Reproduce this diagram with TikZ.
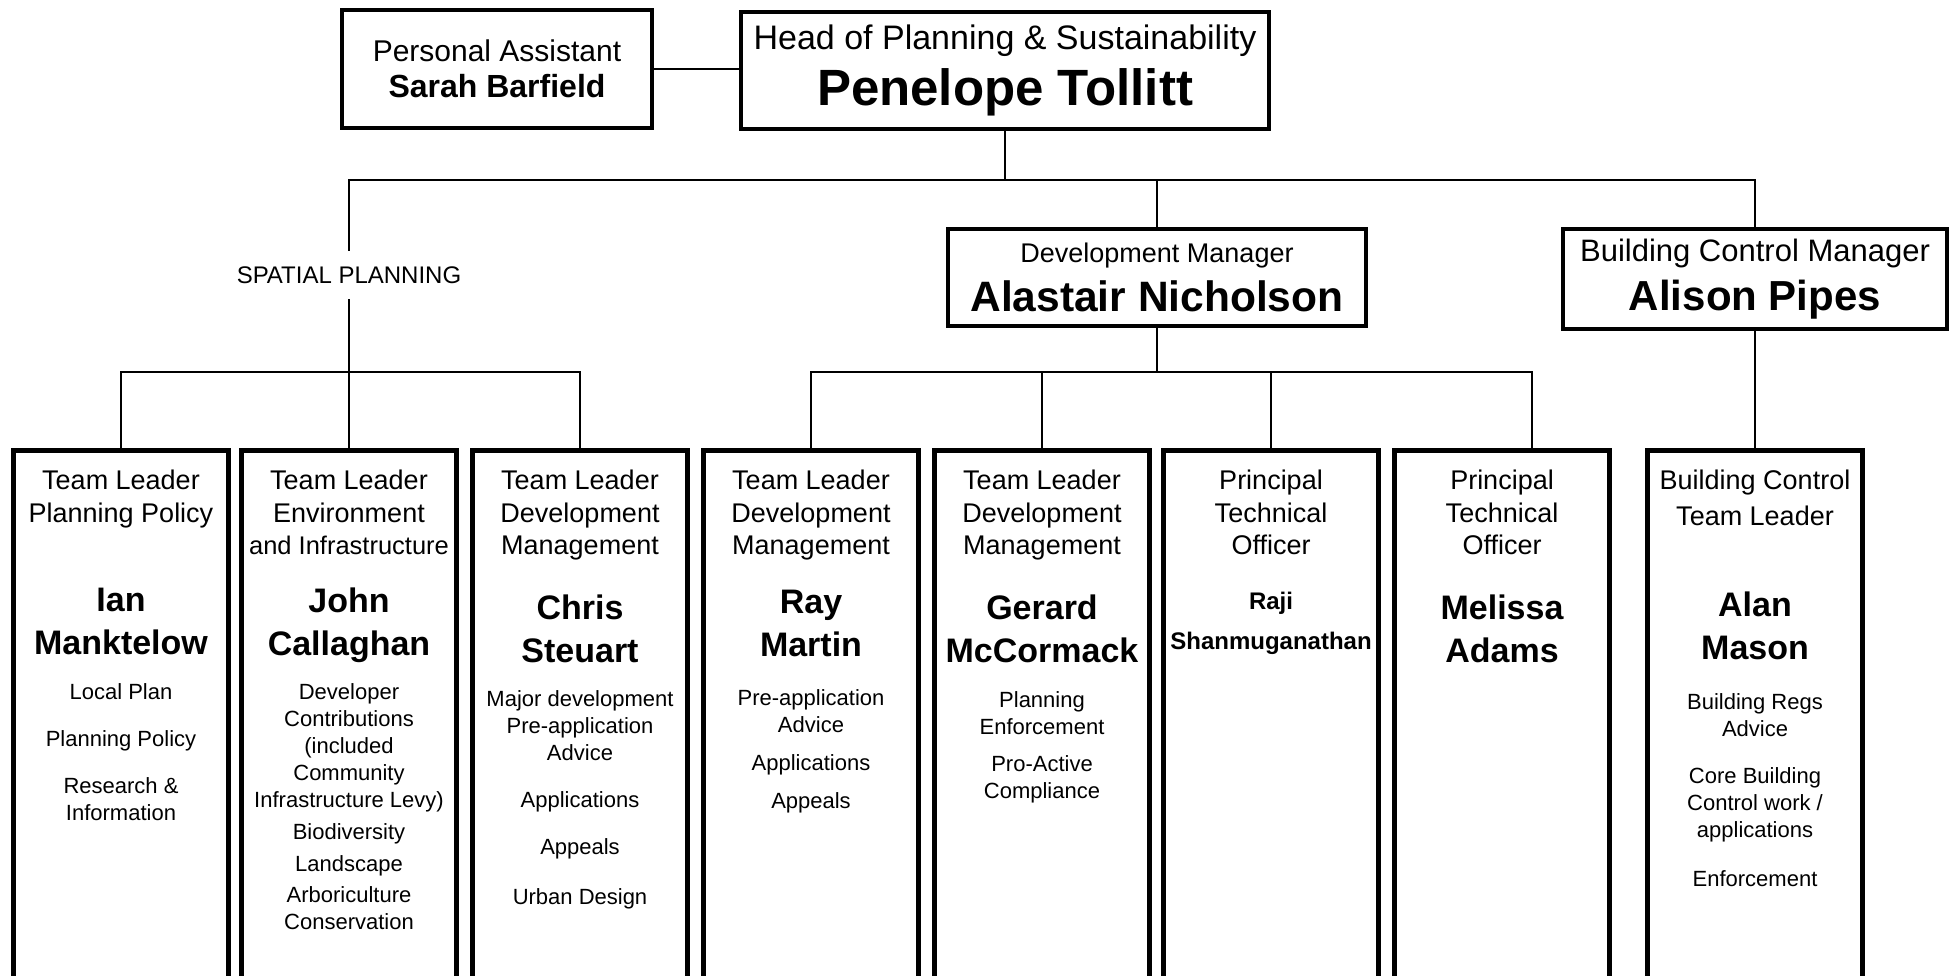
\documentclass[tikz,border=0pt]{standalone}
\usepackage{fontspec}
\setmainfont{Liberation Sans}
\usepackage{tikz}
\newcommand{\Size}[2]{\fontsize{#1}{#2}\selectfont}

\tikzset{
	box/.style={draw, rectangle, line width=4.5pt, inner sep=3pt, align=center},
	team/.style={draw, rectangle, line width=4.5pt, anchor=north, minimum width=215pt, minimum height=560pt},
	role/.style={anchor=north, inner sep=0pt, align=center, font=\Size{27}{32.5}},
	who/.style={anchor=north, inner sep=0pt, align=center, font=\Size{34}{43}\bfseries},
	duty/.style={anchor=north, inner sep=0pt, align=center, font=\Size{22}{27}},
	link/.style={line width=1.8pt},
}

\begin{document}
\begin{tikzpicture}[x=1pt, y=-1pt]
		\useasboundingbox (0,0) rectangle (1958,975);
		\fill[white] (0,0) rectangle (1958,975);

		% Define nodes
		\node[box, minimum width=528pt, minimum height=117pt, font=\Size{34}{56}] (head) at (1005,70.5) {Head of Planning \& Sustainability\\{\bfseries\Size{51}{56}Penelope Tollitt}};
		\node[box, minimum width=310pt, minimum height=118pt, font=\Size{30}{36}] (pa) at (497,69) {Personal Assistant\\{\bfseries\Size{32}{36}Sarah Barfield}};
		\node[box, minimum width=418pt, minimum height=97pt, font=\Size{27}{48.5}] (dev) at (1157,277.5) {Development Manager\\{\bfseries\Size{42.5}{48.5}Alastair Nicholson}};
		\node[box, minimum width=384pt, minimum height=100pt, font=\Size{31}{49}] (bcm) at (1755,279) {Building Control Manager\\{\bfseries\Size{42}{49}Alison Pipes}};
		\node[font=\Size{24}{24}, inner sep=15.5pt] (spatial) at (349,275) {SPATIAL PLANNING};

		\node[team] (t1) at (121,448) {};
		\node[role] (r1) at (121,470) {Team Leader\\Planning Policy};
		\node[who] (n1) at (121,588) {Ian\\Manktelow};
		\node[duty] (d1) at (121,683) {Local Plan\\[20pt]Planning Policy\\[20pt]Research \&\\Information};

		\node[team] (t2) at (349,448) {};
		\node[role] (r2) at (349,470) {Team Leader\\Environment\\{\Size{25.5}{32.5}and Infrastructure}};
		\node[who] (n2) at (349,588) {John\\Callaghan};
		\node[duty] (d2) at (349,683) {Developer\\Contributions\\(included\\Community\\Infrastructure Levy)\\[5pt]Biodiversity\\[5pt]Landscape\\[4pt]Arboriculture\\Conservation};

		\node[team] (t3) at (580,448) {};
		\node[role] (r3) at (580,470) {Team Leader\\Development\\Management};
		\node[who] (n3) at (580,595) {Chris\\Steuart};
		\node[duty] (d3) at (580,690) {Major development\\Pre-application\\Advice\\[20pt]Applications\\[20pt]Appeals\\[23pt]Urban Design};

		\node[team] (t4) at (811,448) {};
		\node[role] (r4) at (811,470) {Team Leader\\Development\\Management};
		\node[who] (n4) at (811,590) {Ray\\Martin};
		\node[duty] (d4) at (811,689) {Pre-application\\Advice\\[11pt]Applications\\[11pt]Appeals};

		\node[team] (t5) at (1042,448) {};
		\node[role] (r5) at (1042,470) {Team Leader\\Development\\Management};
		\node[who] (n5) at (1042,595) {Gerard\\McCormack};
		\node[duty] (d5) at (1042,691) {Planning\\Enforcement\\[10pt]Pro-Active\\Compliance};

		\node[team] (t6) at (1271,448) {};
		\node[role] (r6) at (1271,470) {Principal\\Technical\\Officer};
		\node[who, font=\Size{24}{40}\bfseries] (n6) at (1271,592) {Raji\\Shanmuganathan};

		\node[team] (t7) at (1502,448) {};
		\node[role] (r7) at (1502,470) {Principal\\Technical\\Officer};
		\node[who] (n7) at (1502,595) {Melissa\\Adams};

		\node[team] (t8) at (1755,448) {};
		\node[role] (r8) at (1755,470) {Building Control\\[3pt]Team Leader};
		\node[who] (n8) at (1755,592) {Alan\\Mason};
		\node[duty] (d8) at (1755,693) {Building Regs\\Advice\\[20pt]Core Building\\Control work /\\applications\\[22pt]Enforcement};

		\coordinate (upper) at (0,180);
		\coordinate (lower) at (0,372);
		\coordinate (drop) at ([xshift=30pt]t7.north);

		% Connect the nodes
		\draw[link] (pa.east) -- (pa.east -| head.west);
		\draw[link] (head.south) -- (head.south |- upper);
		\draw[link] (spatial.north) |- (bcm.north |- upper) -- (bcm.north);
		\draw[link] (dev.north) -- (dev.north |- upper);
		\draw[link] (spatial.south) -- (t2.north);
		\draw[link] (t1.north) |- (t3.north |- lower) -- (t3.north);
		\draw[link] (dev.south) -- (dev.south |- lower);
		\draw[link] (t4.north) |- (drop |- lower) -- (drop);
		\draw[link] (t5.north) -- (t5.north |- lower);
		\draw[link] (t6.north) -- (t6.north |- lower);
		\draw[link] (bcm.south) -- (t8.north);
	\end{tikzpicture}
\end{document}
